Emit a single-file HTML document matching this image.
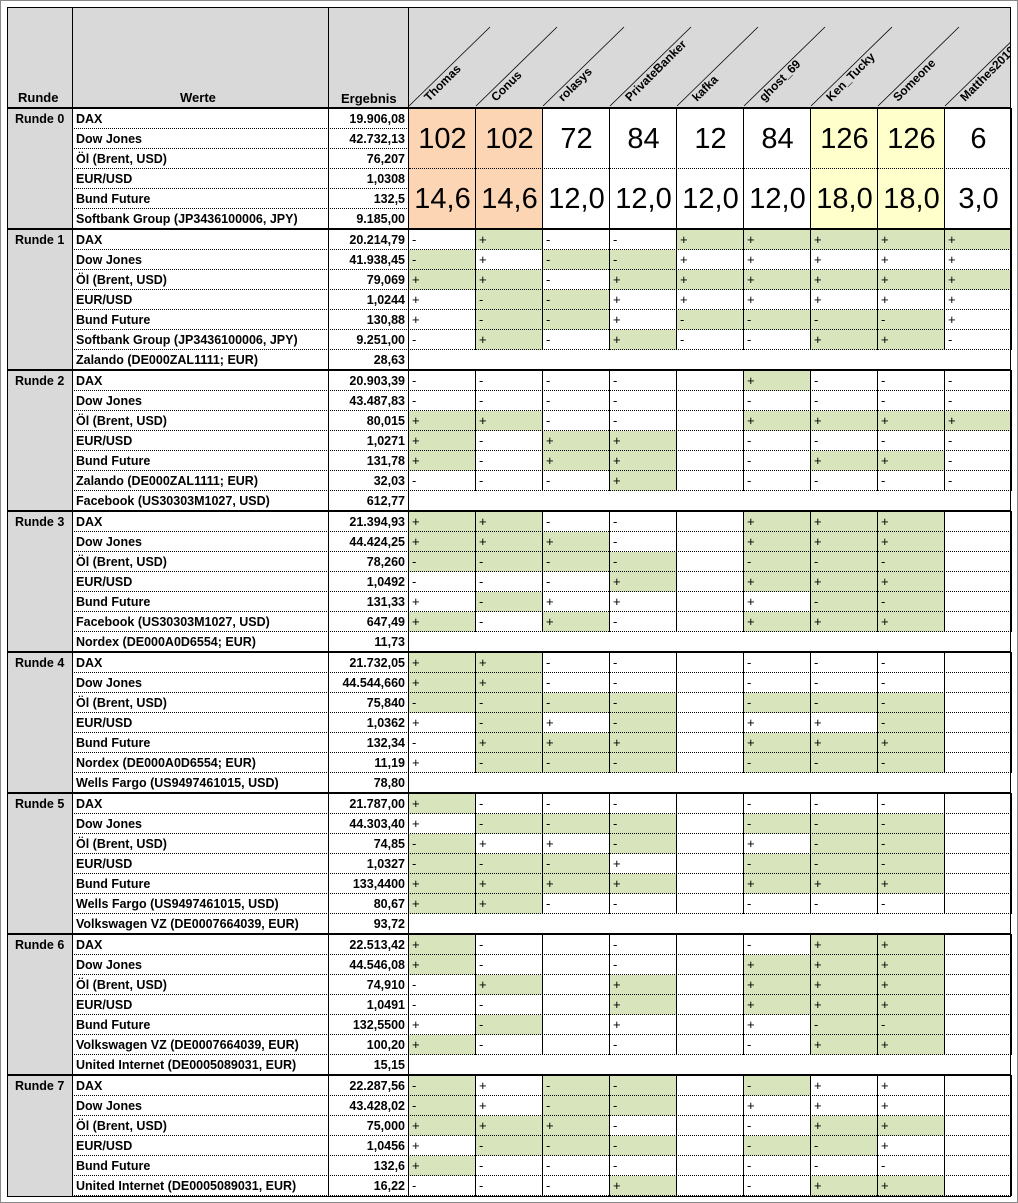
<!DOCTYPE html>
<html><head><meta charset="utf-8">
<style>
html,body{margin:0;padding:0;background:#fff;}
#w{position:relative;width:1018px;height:1203px;overflow:hidden;font-family:"Liberation Sans",Arial,sans-serif;font-weight:bold;}
#w div{position:absolute;box-sizing:border-box;}
.t{font-size:12.5px;line-height:20px;white-space:nowrap;color:#000;}
.s{font-size:13px;line-height:20px;font-weight:normal;padding-left:3px;}
.big{font-size:29px;font-weight:normal;text-align:center;}
</style></head><body>
<div id="w">
<div style="left:0;top:0;width:1018px;height:1203px;border:1px solid #888;"></div>
<div style="left:7px;top:7px;width:1004px;height:1190px;background:#fff;"></div>
<div style="left:7px;top:7px;width:1004px;height:100px;background:#d9d9d9;"></div>
<div style="left:7px;top:107px;width:65px;height:1090px;background:#d9d9d9;"></div>
<div class="t" style="left:18px;top:88px;font-size:13px;">Runde</div>
<div class="t" style="left:180px;top:88px;font-size:13px;">Werte</div>
<div class="t" style="left:341px;top:89px;font-size:13px;">Ergebnis</div>
<svg style="position:absolute;left:0;top:0" width="1011" height="108" viewBox="0 0 1011 108">
<g id="hd" font-family="Liberation Sans, Arial, sans-serif" font-size="12" font-weight="bold"></g>
</svg>
</div>
<script>
var W=document.getElementById('w');
function d(x,y,w,h,st,txt,cls){var e=document.createElement('div');e.style.cssText='left:'+x+'px;top:'+y+'px;width:'+w+'px;height:'+h+'px;'+(st||'');if(cls)e.className=cls;if(txt!=null)e.textContent=txt;W.appendChild(e);return e;}
var names=['Thomas','Conus','rolasys','PrivateBanker','kafka','ghost_69','Ken_Tucky','Someone','Matthes2019'];
var hd=document.getElementById('hd'),h='';
for(var i=0;i<9;i++){var x0=409+67*i;
h+='<line x1="'+x0+'" y1="106" x2="'+(x0+81)+'" y2="27" stroke="#000" stroke-width="0.8"/>';
h+='<text transform="translate('+(x0+20)+',102) rotate(-45)">'+names[i]+'</text>';}
hd.innerHTML=h;
var G='#d8e4bc';
var blocks=[
['Runde 0',[['DAX','19.906,08'],['Dow Jones','42.732,13'],['Öl (Brent, USD)','76,207'],['EUR/USD','1,0308'],['Bund Future','132,5'],['Softbank Group (JP3436100006, JPY)','9.185,00']],null],
['Runde 1',[['DAX','20.214,79'],['Dow Jones','41.938,45'],['Öl (Brent, USD)','79,069'],['EUR/USD','1,0244'],['Bund Future','130,88'],['Softbank Group (JP3436100006, JPY)','9.251,00'],['Zalando (DE000ZAL1111; EUR)','28,63']],
['- +g - - +g +g +g +g +g','-g + -g -g + + + + +','+g +g - +g +g +g +g +g +g','+ -g -g + + + + + +','+ -g -g + -g -g -g -g +','- +g - +g - - +g +g -']],
['Runde 2',[['DAX','20.903,39'],['Dow Jones','43.487,83'],['Öl (Brent, USD)','80,015'],['EUR/USD','1,0271'],['Bund Future','131,78'],['Zalando (DE000ZAL1111; EUR)','32,03'],['Facebook (US30303M1027, USD)','612,77']],
['- - - - . +g - - -','- - - - . - - - -','+g +g - - . +g +g +g +g','+g - +g +g . - - - -','+g - +g +g . - +g +g -','- - - +g . - - - -']],
['Runde 3',[['DAX','21.394,93'],['Dow Jones','44.424,25'],['Öl (Brent, USD)','78,260'],['EUR/USD','1,0492'],['Bund Future','131,33'],['Facebook (US30303M1027, USD)','647,49'],['Nordex (DE000A0D6554; EUR)','11,73']],
['+g +g - - . +g +g +g .','+g +g +g - . +g +g +g .','-g -g -g -g . -g -g -g .','- - - +g . +g +g +g .','+ -g + + . + -g -g .','+g - +g - . +g +g +g .']],
['Runde 4',[['DAX','21.732,05'],['Dow Jones','44.544,660'],['Öl (Brent, USD)','75,840'],['EUR/USD','1,0362'],['Bund Future','132,34'],['Nordex (DE000A0D6554; EUR)','11,19'],['Wells Fargo (US9497461015, USD)','78,80']],
['+g +g - - . - - - .','+g +g - - . - - - .','-g -g -g -g . -g -g -g .','+ -g + -g . + + -g .','- +g +g +g . +g +g +g .','+ -g -g -g . -g -g -g .']],
['Runde 5',[['DAX','21.787,00'],['Dow Jones','44.303,40'],['Öl (Brent, USD)','74,85'],['EUR/USD','1,0327'],['Bund Future','133,4400'],['Wells Fargo (US9497461015, USD)','80,67'],['Volkswagen VZ (DE0007664039, EUR)','93,72']],
['+g - - - . - - - .','+ -g -g -g . -g -g -g .','-g + + -g . + -g -g .','-g -g -g + . -g -g -g .','+g +g +g +g . +g +g +g .','+g +g - - . - - - .']],
['Runde 6',[['DAX','22.513,42'],['Dow Jones','44.546,08'],['Öl (Brent, USD)','74,910'],['EUR/USD','1,0491'],['Bund Future','132,5500'],['Volkswagen VZ (DE0007664039, EUR)','100,20'],['United Internet (DE0005089031, EUR)','15,15']],
['+g - . - . - +g +g .','+g - . - . +g +g +g .','- +g . +g . +g +g +g .','- - . +g . +g +g +g .','+ -g . + . + -g -g .','+g - . - . - +g +g .']],
['Runde 7',[['DAX','22.287,56'],['Dow Jones','43.428,02'],['Öl (Brent, USD)','75,000'],['EUR/USD','1,0456'],['Bund Future','132,6'],['United Internet (DE0005089031, EUR)','16,22']],
['-g + -g -g . -g + + .','-g + -g -g . + + + .','+g +g +g - . - +g +g .','+ -g -g -g . -g -g + .','+g - - - . - - - .','- - - +g . - +g +g .']]
];
var y0=108;
blocks.forEach(function(b,bi){
  if(bi==1)y0=229;
  var rows=b[1],n=rows.length;
  d(15,y0+1,60,20,'',b[0],'t');
  for(var r=0;r<n;r++){
    var y=y0+1+r*20;
    d(76,y,252,20,'',rows[r][0],'t');
    d(330,y,75,20,'text-align:right;',rows[r][1],'t');
    if(b[2]&&r<b[2].length){
      var cs=b[2][r].split(' ');
      for(var i=0;i<9;i++){var c=cs[i],x=409+67*i;
        var g=c.indexOf('g')>=0,sg=c.replace('g','').replace('.','');
        d(x,y,67,20,g?'background:'+G+';':'',sg,'s');}
    }
    d(72,y+19,939,1,'border-top:1px dotted #000;');
  }
  if(bi==0){
    var big1=['102','102','72','84','12','84','126','126','6'],big2=['14,6','14,6','12,0','12,0','12,0','12,0','18,0','18,0','3,0'];
    for(var i=0;i<9;i++){var x=409+67*i,bg=i<2?'#fcd5b4':(i==6||i==7?'#ffffcc':'#fff');
      d(x,109,67,60,'background:'+bg+';line-height:60px;',big1[i],'big');
      d(x,169,67,60,'background:'+bg+';line-height:60px;',big2[i],'big');}
    d(409,168,602,1,'border-top:1px dotted #000;');
  }
  var bh=n*20;
  var vl=(b[2]?b[2].length*20:bh);
  [72,328,408].forEach(function(x){d(x,y0,1,bh+1,'background:#000;');});
  for(var i=1;i<=9;i++)d(408+67*i,y0,1,vl+1,'background:#000;');
  d(1010,y0,1,bh+1,'background:#000;');
  d(7,y0-1,1004,2,'background:#000;');
  y0=y0+bh+1;
});
d(7,1196,1004,1,'background:#000;');
[7,72,328,408,1010].forEach(function(x){d(x,7,1,100,'background:#000;');});
d(7,7,1004,1,'background:#000;');
d(7,7,1,1190,'background:#000;');
</script>
</body></html>
